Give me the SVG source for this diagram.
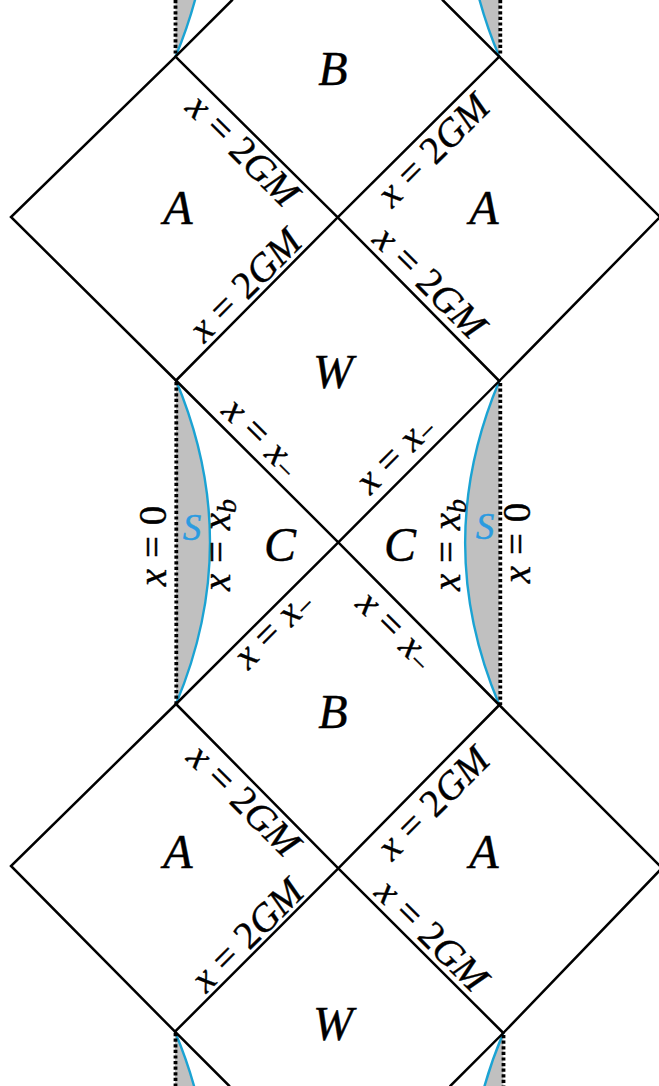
<svg xmlns="http://www.w3.org/2000/svg" width="659" height="1086" viewBox="0 0 659 1086">
<style>
.ln{fill:none;stroke:#000;stroke-width:2.5;stroke-linecap:round}
.dot{fill:none;stroke:#000;stroke-width:3.8;stroke-dasharray:3.2 2.4}
.sh{fill:#c0c0c0;stroke:none}
.bl{fill:none;stroke:#1ba3d3;stroke-width:2.4}
text{font-family:"Liberation Serif","Times New Roman",serif;font-style:italic;fill:#000;stroke:#000;stroke-width:0.4}
.reg{font-size:48px;text-anchor:middle}
.lab{font-size:39px;text-anchor:middle;word-spacing:1px}
.r{font-style:normal}
.sub{font-size:28px}
.s{font-size:37px;text-anchor:middle;fill:#2b9be0;stroke:#2b9be0}
</style>
<rect width="659" height="1086" fill="#fff"/>
<g id="singularities">
<path class="sh" d="M175.5,-266 Q243,-105 175.5,56.7 Z"/>
<path class="sh" d="M499.3,-266 Q431,-105 499.3,56.7 Z"/>
<path class="sh" d="M176,380.5 Q244,542 176,704 Z"/>
<path class="sh" d="M499.3,381 Q431,543 499.3,705 Z"/>
<path class="sh" d="M175,1031.7 Q243,1193 175,1355 Z"/>
<path class="sh" d="M503.3,1033 Q435,1194 503.3,1355 Z"/>
<path class="bl" d="M175.5,-266 Q243,-105 175.5,56.7"/>
<path class="bl" d="M499.3,-266 Q431,-105 499.3,56.7"/>
<path class="bl" d="M176,380.5 Q244,542 176,704"/>
<path class="bl" d="M499.3,381 Q431,543 499.3,705"/>
<path class="bl" d="M175,1031.7 Q243,1193 175,1355"/>
<path class="bl" d="M503.3,1033 Q435,1194 503.3,1355"/>
<path class="dot" d="M175.5,0 V56 M500.3,0 V56 M176.3,382 V704 M500.3,383 V705 M175.5,1033 V1086 M503.5,1035 V1086"/>
</g>
<g id="connectors">
<path class="ln" d="M232.2,0 L175.5,56.7 L11,217 L176,380.5 L338.3,542.3 L499.3,705 L662,868 L503.3,1033 L450.3,1086"/>
<path class="ln" d="M442.6,0 L499.3,56.7 L660,217 L499.3,381 L338.3,542.3 L176,704 L11,866 L175,1031.7 L229.3,1086"/>
<path class="ln" d="M175.5,56.7 L337.7,217.3 L499.3,381"/>
<path class="ln" d="M499.3,56.7 L337.7,217.3 L176,380.5"/>
<path class="ln" d="M176,704 L338.3,868.3 L503.3,1033"/>
<path class="ln" d="M499.3,705 L338.3,868.3 L175,1031.7"/>
</g>
<g id="regions">
<text id="B1" class="reg" x="333" y="85">B</text>
<text id="A1" class="reg" x="178" y="224">A</text>
<text id="A2" class="reg" x="484" y="224">A</text>
<text id="W1" class="reg" x="333" y="388">W</text>
<text id="C1" class="reg" x="280" y="561">C</text>
<text id="C2" class="reg" x="400" y="561">C</text>
<text id="B2" class="reg" x="333" y="728">B</text>
<text id="A3" class="reg" x="178" y="868">A</text>
<text id="A4" class="reg" x="484" y="868">A</text>
<text id="W2" class="reg" x="333" y="1040">W</text>
<text id="S1" class="s" x="192" y="540">S</text>
<text id="S2" class="s" x="485" y="539">S</text>
</g>
<g id="labels">
<text class="lab" transform="translate(243,150) rotate(45)" y="13">x<tspan class="r"> = 2</tspan>GM</text>
<text class="lab" transform="translate(433,150) rotate(-45)" y="13">x<tspan class="r"> = 2</tspan>GM</text>
<text class="lab" transform="translate(245,285) rotate(-45)" y="13">x<tspan class="r"> = 2</tspan>GM</text>
<text class="lab" transform="translate(430,282) rotate(45)" y="13">x<tspan class="r"> = 2</tspan>GM</text>
<text class="lab" transform="translate(259,440) rotate(45)" y="8">x<tspan class="r"> = </tspan>x<tspan class="sub r" dy="4">−</tspan></text>
<text class="lab" transform="translate(398,457) rotate(-45)" y="8">x<tspan class="r"> = </tspan>x<tspan class="sub r" dy="4">−</tspan></text>
<text class="lab" transform="translate(276,632) rotate(-45)" y="8">x<tspan class="r"> = </tspan>x<tspan class="sub r" dy="4">−</tspan></text>
<text class="lab" transform="translate(393,633) rotate(45)" y="8">x<tspan class="r"> = </tspan>x<tspan class="sub r" dy="4">−</tspan></text>
<text class="lab" transform="translate(244,800) rotate(45)" y="13">x<tspan class="r"> = 2</tspan>GM</text>
<text class="lab" transform="translate(433,803) rotate(-45)" y="13">x<tspan class="r"> = 2</tspan>GM</text>
<text class="lab" transform="translate(247,935) rotate(-45)" y="13">x<tspan class="r"> = 2</tspan>GM</text>
<text class="lab" transform="translate(432,935) rotate(45)" y="13">x<tspan class="r"> = 2</tspan>GM</text>
<text class="lab" transform="translate(155,546) rotate(-90)" y="11">x<tspan class="r"> = 0</tspan></text>
<text class="lab" transform="translate(221,545) rotate(-90)" y="9">x<tspan class="r"> = </tspan>x<tspan class="sub" dy="6">b</tspan></text>
<text class="lab" transform="translate(450,545) rotate(-90)" y="10">x<tspan class="r"> = </tspan>x<tspan class="sub" dy="6">b</tspan></text>
<text class="lab" transform="translate(519,543) rotate(-90)" y="11">x<tspan class="r"> = 0</tspan></text>
</g>
</svg>
